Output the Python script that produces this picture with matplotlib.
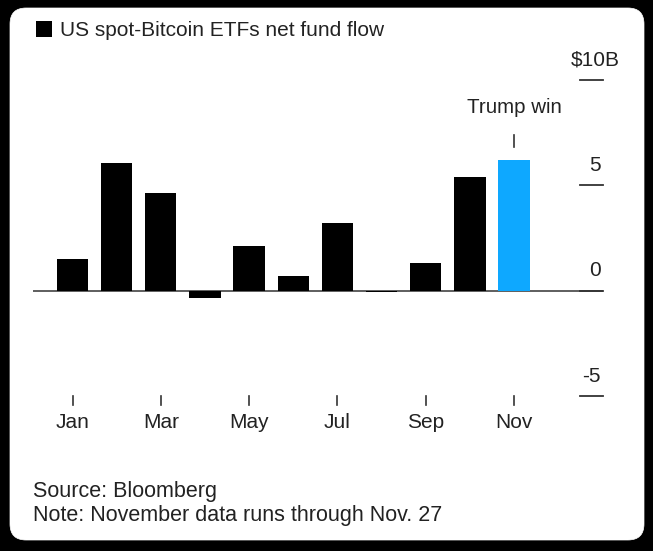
"""Bloomberg-style bar chart of monthly US spot-Bitcoin ETF net flows."""
import matplotlib
matplotlib.use("Agg")
import matplotlib.pyplot as plt
from matplotlib.patches import FancyBboxPatch

plt.rcParams["font.family"] = ["Liberation Sans", "DejaVu Sans"]

W, H = 653, 551
INK = "#222222"

months = ["Jan", "Feb", "Mar", "Apr", "May", "Jun", "Jul", "Aug", "Sep", "Oct", "Nov"]
flows = [1.52, 6.05, 4.65, -0.33, 2.13, 0.7, 3.22, -0.05, 1.3, 5.4, 6.2]
tick_months = ["Jan", "Mar", "May", "Jul", "Sep", "Nov"]
y_ticks = [10, 5, 0, -5]
y_labels = ["$10B", "5", "0", "-5"]

fig = plt.figure(figsize=(W / 100, H / 100), dpi=100, facecolor="black")

# white card with rounded corners
bg = fig.add_axes([0, 0, 1, 1])
bg.set_xlim(0, W)
bg.set_ylim(H, 0)
bg.axis("off")
bg.add_patch(FancyBboxPatch((10, 8), 634, 532, boxstyle="round,pad=0,rounding_size=16",
                            fc="white", ec="white", lw=0.5))

# axes run from x=33..603 px, y: +10 at 80px, -5 at 396px
ax_left, ax_right = 33, 603
ax_top, ax_bot = 80, 396
ax = fig.add_axes([ax_left / W, 1 - ax_bot / H, (ax_right - ax_left) / W, (ax_bot - ax_top) / H])
ax.patch.set_alpha(0)
for s in ax.spines.values():
    s.set_visible(False)

# month i centre = 72.5 + 44.15 * i px
px_per_month = 44.15
ax.set_xlim((ax_left - 72.5) / px_per_month, (ax_right - 72.5) / px_per_month)
ax.set_ylim(-5, 10)

x = list(range(len(months)))
colors = ["black"] * 10 + ["#0ea8ff"]
ax.bar(x, flows, width=0.71, color=colors, zorder=3)
ax.axhline(0, color="#333333", lw=1.1, zorder=2)

# y ticks on the right: short rules with labels sitting above them
ax.set_yticks([])
for v, lab in zip(y_ticks, y_labels):
    ax.plot([1 - 23 / 570, 1], [v, v], transform=ax.get_yaxis_transform(),
            color="#333333", lw=1.3, clip_on=False, zorder=4)
    dx = 17 if lab.startswith("$") else -2
    ax.annotate(lab, (1, v), xycoords=ax.get_yaxis_transform(), xytext=(dx, 20),
                textcoords="offset pixels", ha="right", va="center", fontsize=15, color=INK)

# x ticks hang below the -5 line
ax.set_xticks([])
for m in tick_months:
    i = months.index(m)
    ax.plot([i, i], [-5, -5.43], color="#333333", lw=1.2, clip_on=False)
    ax.annotate(m, (i, -5), xycoords="data", xytext=(0, -26.5), textcoords="offset pixels",
                ha="center", va="center", fontsize=15, color=INK)

# Trump win callout
nov = months.index("Nov")
ax.plot([nov, nov], [6.8, 7.4], color="#333333", lw=1.2)
ax.annotate("Trump win", (nov, 8.7), xycoords="data", ha="center", va="center",
            fontsize=14.8, color=INK)

# legend and footer
bg.add_patch(plt.Rectangle((36, 21), 16, 16, fc="black", ec="none"))
bg.text(60, 31, "US spot-Bitcoin ETFs net fund flow", fontsize=15, va="center", color=INK)
bg.text(33, 492, "Source: Bloomberg", fontsize=15.5, va="center", color=INK)
bg.text(33, 515, "Note: November data runs through Nov. 27", fontsize=15.5, va="center", color=INK)

fig.savefig("out.png", dpi=100, facecolor="black")
